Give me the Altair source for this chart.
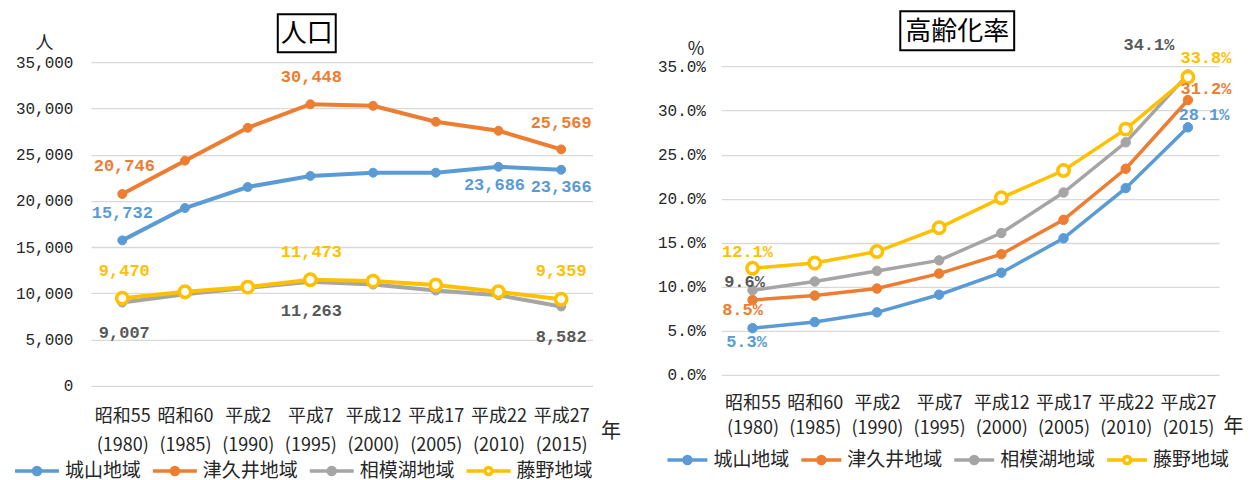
import altair as alt
import pandas as pd

# ---------------- data ----------------
eras = ["昭和55", "昭和60", "平成2", "平成7", "平成12", "平成17", "平成22", "平成27"]
years = ["1980", "1985", "1990", "1995", "2000", "2005", "2010", "2015"]
series = ["城山地域", "津久井地域", "相模湖地域", "藤野地域"]

pop_shiroyama = [15732, 19230, 21500, 22700, 23050, 23050, 23686, 23366]
pop_tsukui = [20746, 24350, 27900, 30448, 30280, 28550, 27580, 25569]
pop_sagamiko = [9007, 9900, 10600, 11263, 10950, 10300, 9800, 8582]
pop_fujino = [9470, 10170, 10680, 11473, 11330, 10900, 10170, 9359]

aging_shiroyama = [5.3, 6.0, 7.1, 9.1, 11.6, 15.5, 21.2, 28.1]
aging_tsukui = [8.5, 9.0, 9.8, 11.5, 13.7, 17.6, 23.4, 31.2]
aging_sagamiko = [9.6, 10.6, 11.8, 13.0, 16.1, 20.7, 26.4, 34.1]
aging_fujino = [12.1, 12.7, 14.0, 16.7, 20.1, 23.2, 27.9, 33.8]

pop_ticks = [0, 5000, 10000, 15000, 20000, 25000, 30000, 35000]
aging_ticks = [0, 0.05, 0.10, 0.15, 0.20, 0.25, 0.30, 0.35]

# ---------------- styles ----------------
colors = ["#5B9BD5", "#ED7D31", "#A5A5A5", "#FFC000"]
fills = ["#5B9BD5", "#ED7D31", "#A5A5A5", "#FFFFFF"]
label_colors = ["#5B9BD5", "#ED7D31", "#595959", "#FFC000"]
JP = "Noto Sans CJK JP"
MONO = "Liberation Mono"
TXT = "#262626"

cats = [f"{e}\n({y})" for e, y in zip(eras, years)]


def long_df(arrs, scale=1.0):
    rows = []
    for s, arr in zip(series, arrs):
        for i, (c, v) in enumerate(zip(cats, arr)):
            rows.append({"series": s, "cat": c, "idx": i, "value": v * scale})
    return pd.DataFrame(rows)


pop_df = long_df([pop_shiroyama, pop_tsukui, pop_sagamiko, pop_fujino])
aging_df = long_df([aging_shiroyama, aging_tsukui, aging_sagamiko, aging_fujino], 0.01)


def sym_path(r):
    return (f"M-1,0L{-r},0M{r},0L1,0M{r},0A{r},{r},0,1,1,{-r},0"
            f"A{r},{r},0,1,1,{r},0Z")


def panel(df, cfg):
    x = alt.X("cat:N", sort=cats, scale=alt.Scale(padding=0.5),
              axis=alt.Axis(title="年", titleX=cfg["nen_x"], titleY=cfg["nen_y"],
                            titleAlign="center", titleBaseline="middle",
                            titleFont=JP, titleFontSize=20, titleFontWeight="normal",
                            titleColor=TXT,
                            labelExpr="split(datum.label, '\\n')", labelAngle=0,
                            labelFont=JP, labelFontSize=18, labelColor=TXT,
                            labelLineHeight=cfg["xlh"], labelPadding=cfg["xpad"],
                            labelLimit=0, labelOverlap=False,
                            domain=False, ticks=False, grid=False))
    y = alt.Y("value:Q",
              scale=alt.Scale(domain=cfg["ydomain"], nice=False, zero=True),
              axis=alt.Axis(values=cfg["yticks"], format=cfg["yfmt"],
                            title=cfg["ytitle"], titleAngle=0,
                            titleX=cfg["yt_x"], titleY=cfg["yt_y"],
                            titleAlign="center", titleBaseline="middle",
                            titleFont=JP, titleFontSize=18, titleFontWeight="normal",
                            titleColor=TXT,
                            labelFont=MONO, labelFontSize=16, labelColor=TXT,
                            labelPadding=cfg["ypad"],
                            domain=False, ticks=False, grid=True,
                            gridColor="#D9D9D9", gridWidth=1.3))
    leg = alt.Legend(title=None, orient="none", legendX=cfg["leg_x"], legendY=cfg["leg_y"],
                     direction="horizontal", columns=4,
                     symbolType=sym_path(cfg["sym_r"]), symbolSize=cfg["sym_size"],
                     symbolStrokeWidth=3.5, labelFont=JP, labelFontSize=19,
                     labelColor=TXT, labelOffset=4, columnPadding=cfg["colpad"],
                     symbolOpacity=1)
    stroke = alt.Stroke("series:N", sort=series,
                        scale=alt.Scale(domain=series, range=colors), legend=leg)
    fill = alt.Fill("series:N", sort=series,
                    scale=alt.Scale(domain=series, range=fills), legend=leg)

    base = alt.Chart(df)
    layers = []
    for si, s in enumerate(series):
        sub = base.transform_filter(f"datum.series == '{s}'")
        layers.append(sub.mark_line(strokeWidth=cfg["lw"]).encode(x=x, y=y, stroke=stroke))
        if si < 3:
            layers.append(sub.mark_point(size=cfg["pt"], strokeWidth=1, opacity=1)
                          .encode(x=x, y=y, stroke=stroke, fill=fill))
        else:
            layers.append(sub.mark_point(size=cfg["ring"], strokeWidth=3.5, opacity=1)
                          .encode(x=x, y=y, stroke=stroke, fill=fill))
    for si, s in enumerate(series):
        for (i, dx, dy) in cfg["labels"][s]:
            layers.append(
                base.transform_filter(f"datum.series == '{s}' && datum.idx == {i}")
                .mark_text(dx=dx, dy=dy, font=MONO, fontSize=17, fontWeight="bold",
                           color=label_colors[si], align="center", baseline="middle")
                .encode(x=x, y=y, text=alt.Text("value:Q", format=cfg["tfmt"]))
            )
    tdf = pd.DataFrame({"t": [cfg["title"]]})
    bx0, bx1, by0, by1 = cfg["box"]
    layers.append(alt.Chart(tdf).mark_rect(fill="white", stroke="black", strokeWidth=2)
                  .encode(x=alt.value(bx0), x2=alt.value(bx1),
                          y=alt.value(by0), y2=alt.value(by1)))
    layers.append(alt.Chart(tdf).mark_text(font=JP, fontSize=26, color="black",
                                           align="center", baseline="middle")
                  .encode(x=alt.value((bx0 + bx1) / 2), y=alt.value((by0 + by1) / 2 + 1),
                          text="t:N"))
    return alt.layer(*layers).properties(width=cfg["w"], height=cfg["h"])


left_cfg = dict(
    w=502, h=324, ydomain=[0, 35000], yticks=pop_ticks, yfmt=",d", ytitle="人",
    yt_x=-47, yt_y=-19, ypad=18, xpad=22, xlh=29, nen_x=520, nen_y=46,
    lw=4, pt=80, ring=130, leg_x=-78, leg_y=385, sym_r=0.16, sym_size=1936, colpad=4,
    tfmt=",d", title="人口", box=(187, 245, -48, -10),
    labels={
        "城山地域": [(0, 0, -27), (6, -4, 18), (7, 0, 17)],
        "津久井地域": [(0, 2, -28), (3, 1, -27), (7, 0, -26)],
        "相模湖地域": [(0, 2, 30), (3, 1, 29), (7, 0, 31)],
        "藤野地域": [(0, 2, -27), (3, 1, -28), (7, 0, -28)],
    },
)

right_cfg = dict(
    w=498, h=313, ydomain=[0, 0.355], yticks=aging_ticks, yfmt=".1%", ytitle="%",
    yt_x=-26, yt_y=-13, ypad=16, xpad=20, xlh=25, nen_x=512, nen_y=52,
    lw=3.5, pt=90, ring=130, leg_x=-56, leg_y=376, sym_r=0.175, sym_size=1600, colpad=4,
    tfmt=".1%", title="高齢化率", box=(179, 293, -51, -12),
    labels={
        "城山地域": [(0, -6, 14), (7, 16, -12)],
        "津久井地域": [(0, -10, 10), (7, 18, -11)],
        "相模湖地域": [(0, -8, -8), (7, -39, -30)],
        "藤野地域": [(0, -5, -16), (7, 18, -19)],
    },
)

chart = (
    alt.hconcat(panel(pop_df, left_cfg), panel(aging_df, right_cfg), spacing=36)
    .resolve_scale(x="independent", y="independent", stroke="independent", fill="independent")
    .resolve_legend(stroke="independent", fill="independent")
    .properties(padding={"left": 5, "top": 2, "right": 0, "bottom": 0})
    .configure_view(stroke=None)
)

chart.save("out.html", embed_options={"renderer": "svg", "actions": False})
